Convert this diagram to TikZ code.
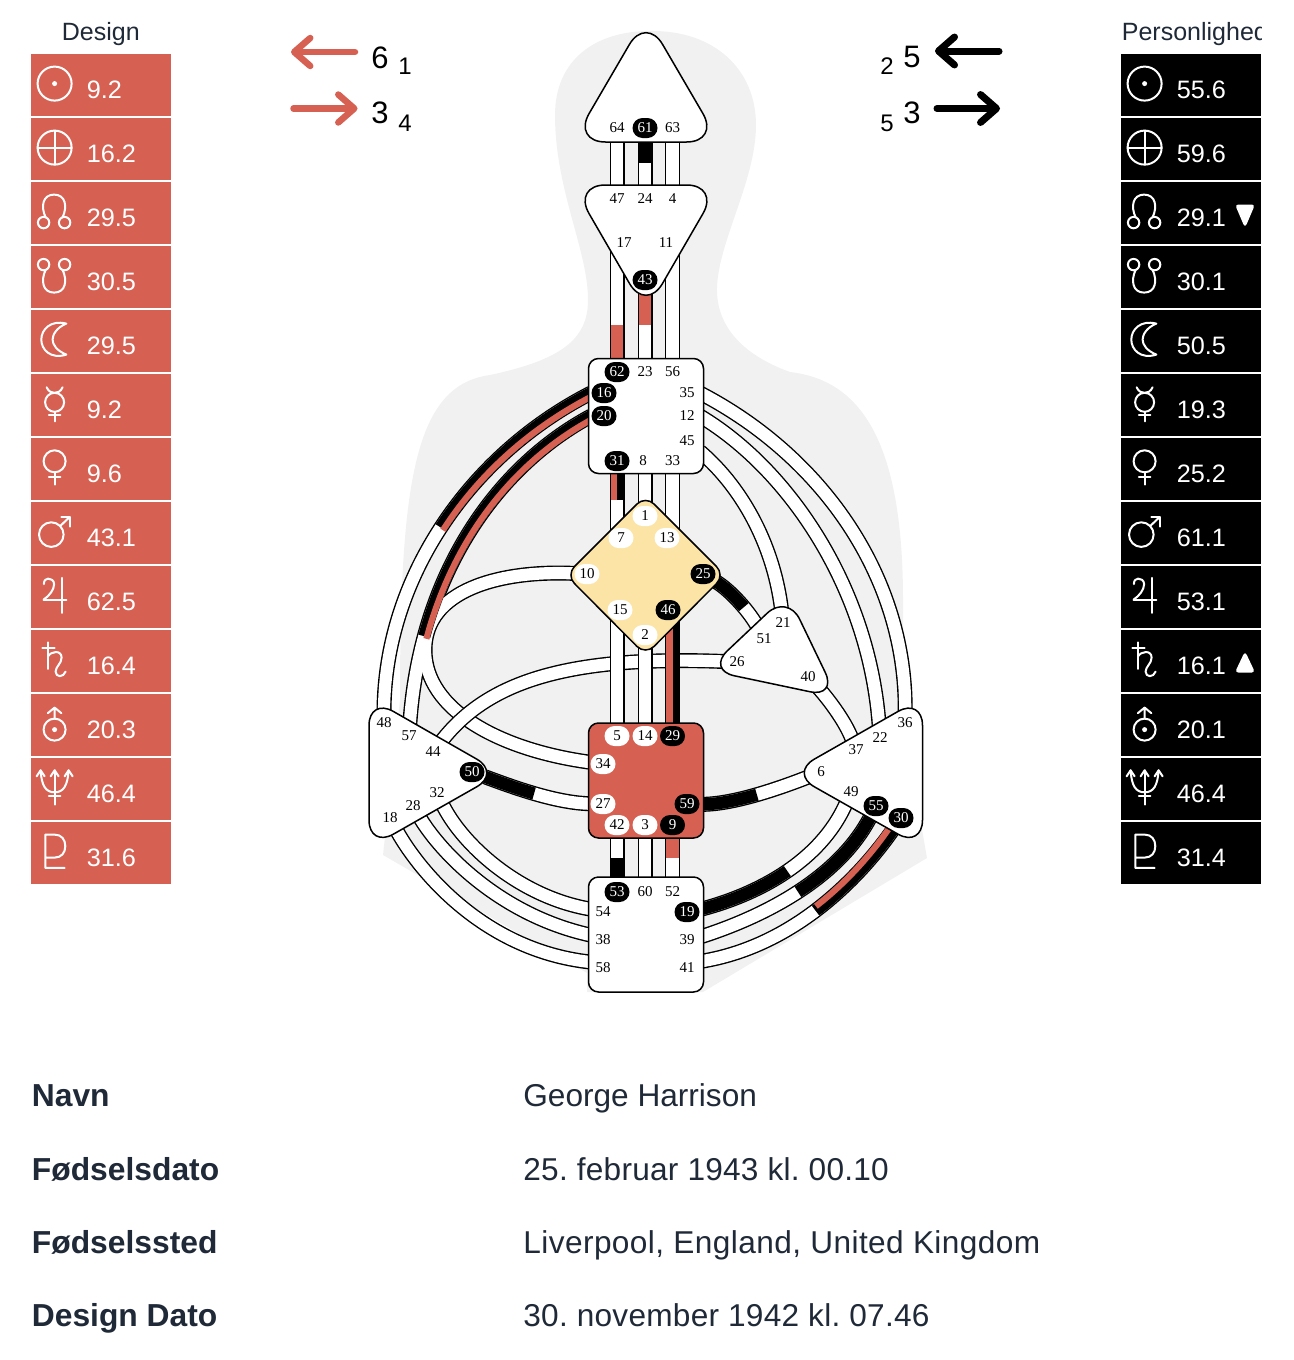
\documentclass[tikz,border=0pt]{standalone}
\usepackage{fontspec}
\setmainfont{Liberation Sans}
\newfontfamily\gatefont{Liberation Serif}
\usetikzlibrary{arrows.meta}
\pgfdeclarelayer{under}
\pgfsetlayers{under,main}
\definecolor{hdred}{HTML}{D66153}
\definecolor{hdbody}{HTML}{F1F1F1}
\definecolor{hdgold}{HTML}{FCE4A6}
\definecolor{hdtext}{HTML}{1F2937}

% curves that carry a coloured stretch, coloured end first
\newcommand{\pathSixteen}{(g16.west) .. controls (468,456) and (384,580) .. (g48)}
\newcommand{\pathTwenty}{(g20.west) .. controls (500,465) and (420,570) .. (g57)}
\newcommand{\pathFifty}{(g50) .. controls (510,786) and (555,803) .. (g27)}
\newcommand{\pathFiftyNine}{(g59) .. controls (730,805) and (775,790) .. (g6)}
\newcommand{\pathNineteen}{([yshift=1.25pt]g19.east) .. controls (745,898) and (818,868) .. (g49)}
\newcommand{\pathFiftyFive}{(g55) .. controls (838,880) and (760,918) .. ([yshift=1.5pt]g39.east)}
\newcommand{\pathThirty}{(g30) .. controls (872,860) and (805,945) .. ([yshift=3.25pt]g41.east)}
\newcommand{\pathTwentyFive}{(g25) .. controls (730,590) and (750,612) .. (g51)}
\newcommand{\chanset}[1]{%
  \foreach \p in {#1}{\draw[chanedge] \p;}
  \foreach \p in {#1}{\draw[chanfill] \p;}}

\tikzset{
  glyph/.style={draw=white, line width=1pt, line cap=round, line join=round},
  pics/sunglyph/.style={code={
    \draw[glyph] (24,30) circle (17);
    \fill[white] (24,30) circle (2.5);}},
  pics/earthglyph/.style={code={
    \draw[glyph] (24,30) circle (17);
    \draw[glyph] (7,30) -- (41,30) (24,13) -- (24,47);}},
  pics/northglyph/.style={code={
    \draw[glyph] (13,41) circle (5.7) (34,41) circle (5.7);
    \draw[glyph] (15,35.7) .. controls (10,25) and (12,13) .. (23.5,13)
                 .. controls (35,13) and (37,25) .. (32,35.7);}},
  pics/southglyph/.style={code={
    \draw[glyph] (13,19) circle (5.7) (34,19) circle (5.7);
    \draw[glyph] (15,24.3) .. controls (10,35) and (12,47) .. (23.5,47)
                 .. controls (35,47) and (37,35) .. (32,24.3);}},
  pics/moonglyph/.style={code={
    \draw[glyph] (35.7,14) .. controls (20,10) and (10.7,20) .. (10.7,30)
                 .. controls (10.7,40) and (20,50) .. (35.7,45)
                 .. controls (26,41) and (22,35) .. (22,30)
                 .. controls (22,25) and (26,18) .. (35.7,14) -- cycle;}},
  pics/mercuryglyph/.style={code={
    \draw[glyph] (24,28.7) circle (9.5);
    \draw[glyph] (16,13.7) .. controls (18,18) and (21,19.3) .. (24,19.3)
                 .. controls (27,19.3) and (30,18) .. (32,13.7);
    \draw[glyph] (24,38.2) -- (24,47.7) (18.3,41.5) -- (29.7,41.5);}},
  pics/venusglyph/.style={code={
    \draw[glyph] (24,23.7) circle (11);
    \draw[glyph] (24,34.7) -- (24,47) (18.3,39.5) -- (29.7,39.5);}},
  pics/marsglyph/.style={code={
    \draw[glyph] (20.7,33) circle (12.3);
    \draw[glyph] (29.5,24.5) -- (39,15.5);
    \draw[glyph] (30.7,15.5) -- (39,15.5) -- (39,25);}},
  pics/jupiterglyph/.style={code={
    \draw[glyph] (31.3,12.3) -- (31.3,47.3) (13,34) -- (35.7,34);
    \draw[glyph] (13,34) .. controls (19,30) and (23.5,24) .. (23.5,18.5)
                 .. controls (23.5,14.5) and (20,13) .. (17.5,13)
                 .. controls (15,13) and (13.3,15) .. (13.3,18.5);}},
  pics/saturnglyph/.style={code={
    \draw[glyph] (17.3,12.7) -- (17.3,39.3) (11.7,18.3) -- (24,18.3);
    \draw[glyph] (17.3,27) .. controls (20,21.5) and (31,20) .. (31,28)
                 .. controls (31,34) and (25,37) .. (25,42)
                 .. controls (25,48) and (33,48) .. (35,42);}},
  pics/uranusglyph/.style={code={
    \draw[glyph] (24,36) circle (11);
    \fill[white] (24,36) circle (2.5);
    \draw[glyph] (24,25) -- (24,14) (17.3,19.5) -- (24,14) -- (30.7,19.5);}},
  pics/neptuneglyph/.style={code={
    \draw[glyph] (24,12.7) -- (24,47) (18.3,38.7) -- (29.7,38.7);
    \draw[glyph] (10,12.7) .. controls (11,28) and (15,34.7) .. (24,34.7)
                 .. controls (33,34.7) and (37,28) .. (38,12.7);
    \draw[glyph] (6,18.7) -- (10,12.7) -- (14,18.7);
    \draw[glyph] (20,18.7) -- (24,12.7) -- (28,18.7);
    \draw[glyph] (34,18.7) -- (38,12.7) -- (42,18.7);}},
  pics/plutoglyph/.style={code={
    \draw[glyph] (34,46.3) -- (14.7,46.3) -- (14.7,13) -- (24,13)
                 .. controls (31,13) and (34.7,18) .. (34.7,24.5)
                 .. controls (34.7,31) and (31,36) .. (24,36) -- (14.7,36);}}
}

\begin{document}
\frenchspacing
\begin{tikzpicture}[
    x=0.5pt, y=-0.5pt,
    gate/.style={font=\gatefont\fontsize{7.5}{8}\selectfont, inner sep=0pt,
                 minimum width=12.5pt, minimum height=10pt, rounded corners=5pt},
    gateon/.style={gate, fill=black, text=white},
    gatewh/.style={gate, fill=white},
    chanedge/.style={line width=7.5pt, black},
    chanfill/.style={line width=6.1pt, white},
    part/.style={line width=6.1pt, dash pattern=on #1 off 4000pt},
    halfpart/.style={line width=3.05pt, dash pattern=on #1 off 4000pt},
    cen/.style={draw=black, line width=0.75pt, fill=white},
    sqcen/.style={cen, minimum size=57.5pt, inner sep=0pt, rounded corners=5pt},
    rowd/.style={fill=hdred, minimum width=70pt, minimum height=31pt, inner sep=0pt},
    rowp/.style={fill=black, minimum width=70pt, minimum height=31pt, inner sep=0pt},
    val/.style={text=white, anchor=base west, inner sep=0pt, font=\fontsize{12.6}{14}\selectfont},
    colhead/.style={text=hdtext, anchor=base west, inner sep=0pt, font=\fontsize{12.5}{15}\selectfont},
    keytxt/.style={text=hdtext, anchor=base west, inner sep=0pt, font=\fontsize{15.9}{19}\selectfont\bfseries},
    valtxt/.style={text=hdtext, anchor=base west, inner sep=0pt, font=\fontsize{15.8}{19}\selectfont},
    bignum/.style={inner sep=0pt, font=\fontsize{15.5}{18}\selectfont},
    smallnum/.style={inner sep=0pt, font=\fontsize{12}{14}\selectfont},
    barb/.style={line width=3.25pt, line cap=round, -{Straight Barb[round, length=8pt, width=14pt]}}
]
  \useasboundingbox (0,0) rectangle (1294,1360);

  % ================= column heads =================
  \node[colhead] (dhead) at (61.5,40) {Design};
  \begin{scope}
    \clip (1121,0) rectangle (1261,60);
    \node[colhead] (phead) at (1121.5,40) {Personlighed};
  \end{scope}

  % ================= design column =================
  \node[rowd] (dsun) at (101,85)  {}; \node[val] (vdsun) at (86.5,98.5)  {9.2};  \pic at (dsun.north west) {sunglyph};
  \node[rowd] (dear) at (101,149) {}; \node[val] (vdear) at (86.5,162.5) {16.2}; \pic at (dear.north west) {earthglyph};
  \node[rowd] (dnor) at (101,213) {}; \node[val] (vdnor) at (86.5,226.5) {29.5}; \pic at (dnor.north west) {northglyph};
  \node[rowd] (dsou) at (101,277) {}; \node[val] (vdsou) at (86.5,290.5) {30.5}; \pic at (dsou.north west) {southglyph};
  \node[rowd] (dmoo) at (101,341) {}; \node[val] (vdmoo) at (86.5,354.5) {29.5}; \pic at (dmoo.north west) {moonglyph};
  \node[rowd] (dmer) at (101,405) {}; \node[val] (vdmer) at (86.5,418.5) {9.2};  \pic at (dmer.north west) {mercuryglyph};
  \node[rowd] (dven) at (101,469) {}; \node[val] (vdven) at (86.5,482.5) {9.6};  \pic at (dven.north west) {venusglyph};
  \node[rowd] (dmar) at (101,533) {}; \node[val] (vdmar) at (86.5,546.5) {43.1}; \pic at (dmar.north west) {marsglyph};
  \node[rowd] (djup) at (101,597) {}; \node[val] (vdjup) at (86.5,610.5) {62.5}; \pic at (djup.north west) {jupiterglyph};
  \node[rowd] (dsat) at (101,661) {}; \node[val] (vdsat) at (86.5,674.5) {16.4}; \pic at (dsat.north west) {saturnglyph};
  \node[rowd] (dura) at (101,725) {}; \node[val] (vdura) at (86.5,738.5) {20.3}; \pic at (dura.north west) {uranusglyph};
  \node[rowd] (dnep) at (101,789) {}; \node[val] (vdnep) at (86.5,802.5) {46.4}; \pic at (dnep.north west) {neptuneglyph};
  \node[rowd] (dplu) at (101,853) {}; \node[val] (vdplu) at (86.5,866.5) {31.6}; \pic at (dplu.north west) {plutoglyph};

  % ================= personality column =================
  \node[rowp] (psun) at (1191,85)  {}; \node[val] (vpsun) at (1176.5,98.5)  {55.6}; \pic at (psun.north west) {sunglyph};
  \node[rowp] (pear) at (1191,149) {}; \node[val] (vpear) at (1176.5,162.5) {59.6}; \pic at (pear.north west) {earthglyph};
  \node[rowp] (pnor) at (1191,213) {}; \node[val] (vpnor) at (1176.5,226.5) {29.1}; \pic at (pnor.north west) {northglyph};
  \node[rowp] (psou) at (1191,277) {}; \node[val] (vpsou) at (1176.5,290.5) {30.1}; \pic at (psou.north west) {southglyph};
  \node[rowp] (pmoo) at (1191,341) {}; \node[val] (vpmoo) at (1176.5,354.5) {50.5}; \pic at (pmoo.north west) {moonglyph};
  \node[rowp] (pmer) at (1191,405) {}; \node[val] (vpmer) at (1176.5,418.5) {19.3}; \pic at (pmer.north west) {mercuryglyph};
  \node[rowp] (pven) at (1191,469) {}; \node[val] (vpven) at (1176.5,482.5) {25.2}; \pic at (pven.north west) {venusglyph};
  \node[rowp] (pmar) at (1191,533) {}; \node[val] (vpmar) at (1176.5,546.5) {61.1}; \pic at (pmar.north west) {marsglyph};
  \node[rowp] (pjup) at (1191,597) {}; \node[val] (vpjup) at (1176.5,610.5) {53.1}; \pic at (pjup.north west) {jupiterglyph};
  \node[rowp] (psat) at (1191,661) {}; \node[val] (vpsat) at (1176.5,674.5) {16.1}; \pic at (psat.north west) {saturnglyph};
  \node[rowp] (pura) at (1191,725) {}; \node[val] (vpura) at (1176.5,738.5) {20.1}; \pic at (pura.north west) {uranusglyph};
  \node[rowp] (pnep) at (1191,789) {}; \node[val] (vpnep) at (1176.5,802.5) {46.4}; \pic at (pnep.north west) {neptuneglyph};
  \node[rowp] (pplu) at (1191,853) {}; \node[val] (vpplu) at (1176.5,866.5) {31.4}; \pic at (pplu.north west) {plutoglyph};
  \fill[white, draw=white, line width=1pt, rounded corners=1pt] (1236.5,205.5) -- (1253.5,205.5) -- (1245,225.5) -- cycle;
  \fill[white, draw=white, line width=1pt, rounded corners=1pt] (1236.5,671.5) -- (1253.5,671.5) -- (1245,653.5) -- cycle;

  % ================= arrows and their numbers =================
  \coordinate (ra1) at (355,52);   \coordinate (rb1) at (291,52);
  \coordinate (ra2) at (293.5,108.5); \coordinate (rb2) at (357.5,108.5);
  \coordinate (ka1) at (999,51);   \coordinate (kb1) at (935,51);
  \coordinate (ka2) at (937,108.5); \coordinate (kb2) at (1000,108.5);
  \draw[barb, hdred] (ra1) -- (rb1);
  \draw[barb, hdred] (ra2) -- (rb2);
  \draw[barb, line width=3.5pt] (ka1) -- (kb1);
  \draw[barb, line width=3.5pt] (ka2) -- (kb2);
  \node[bignum]   (n61) at (380,58)  {6};
  \node[smallnum] (n11) at (405,66)  {1};
  \node[bignum]   (n32) at (380,113) {3};
  \node[smallnum] (n42) at (405,123) {4};
  \node[bignum]   (n53) at (912,57)  {5};
  \node[smallnum] (n23) at (887,66)  {2};
  \node[bignum]   (n34) at (912,113) {3};
  \node[smallnum] (n54) at (887,123) {5};

  % ================= gates =================
  % head
  \node[gate]   (g64) at (617,128)   {64};
  \node[gateon] (g61) at (645,128)   {61};
  \node[gate]   (g63) at (672.5,128) {63};
  % ajna
  \node[gate]   (g47) at (617,199)   {47};
  \node[gate]   (g24) at (645,199)   {24};
  \node[gate]   (g4)  at (672.5,199) {4};
  \node[gate]   (g17) at (624,243)   {17};
  \node[gate]   (g11) at (666,243)   {11};
  \node[gateon] (g43) at (645,280)   {43};
  % throat
  \node[gateon] (g62) at (617,372)   {62};
  \node[gate]   (g23) at (645,372)   {23};
  \node[gate]   (g56) at (672.5,372) {56};
  \node[gateon] (g16) at (604,393)   {16};
  \node[gate]   (g35) at (687,393)   {35};
  \node[gateon] (g20) at (604,416)   {20};
  \node[gate]   (g12) at (687,416)   {12};
  \node[gate]   (g45) at (687,441)   {45};
  \node[gateon] (g31) at (617,461)   {31};
  \node[gate]   (g8)  at (643,461)   {8};
  \node[gate]   (g33) at (672.5,461) {33};
  % g center
  \node[gatewh] (g1)  at (645,516)   {1};
  \node[gatewh] (g7)  at (621,538)   {7};
  \node[gatewh] (g13) at (667,538)   {13};
  \node[gatewh] (g10) at (587,574)   {10};
  \node[gateon] (g25) at (703,574)   {25};
  \node[gatewh] (g15) at (620,610)   {15};
  \node[gateon] (g46) at (668,610)   {46};
  \node[gatewh] (g2)  at (645,635)   {2};
  % ego
  \node[gate]   (g21) at (783,623)   {21};
  \node[gate]   (g51) at (764,639)   {51};
  \node[gate]   (g26) at (737,662)   {26};
  \node[gate]   (g40) at (808,677)   {40};
  % sacral
  \node[gatewh] (g5)  at (617,736)   {5};
  \node[gatewh] (g14) at (645,736)   {14};
  \node[gateon] (g29) at (672.5,736) {29};
  \node[gatewh] (g34) at (603,764)   {34};
  \node[gatewh] (g27) at (603,804)   {27};
  \node[gateon] (g59) at (687,804)   {59};
  \node[gatewh] (g42) at (617,825)   {42};
  \node[gatewh] (g3)  at (645,825)   {3};
  \node[gateon] (g9)  at (672.5,825) {9};
  % root
  \node[gateon] (g53) at (617,892)   {53};
  \node[gate]   (g60) at (645,892)   {60};
  \node[gate]   (g52) at (672.5,892) {52};
  \node[gate]   (g54) at (603,912)   {54};
  \node[gateon] (g19) at (687,912)   {19};
  \node[gate]   (g38) at (603,940)   {38};
  \node[gate]   (g39) at (687,940)   {39};
  \node[gate]   (g58) at (603,968)   {58};
  \node[gate]   (g41) at (687,968)   {41};
  % spleen
  \node[gate]   (g48) at (384,723)   {48};
  \node[gate]   (g57) at (409,736)   {57};
  \node[gate]   (g44) at (433,752)   {44};
  \node[gateon] (g50) at (472,772)   {50};
  \node[gate]   (g32) at (437,793)   {32};
  \node[gate]   (g28) at (413,806)   {28};
  \node[gate]   (g18) at (390,818)   {18};
  % solar plexus
  \node[gate]   (g36) at (905,723)   {36};
  \node[gate]   (g22) at (880,738)   {22};
  \node[gate]   (g37) at (856,750)   {37};
  \node[gate]   (g6)  at (821,772)   {6};
  \node[gate]   (g49) at (851,792)   {49};
  \node[gateon] (g55) at (876,806)   {55};
  \node[gateon] (g30) at (901,818)   {30};

  % ends of the coloured stretches on the straight channels
  \coordinate (m24) at (645,163);
  \coordinate (m17) at (617,325);
  \coordinate (m23) at (645,325);
  \coordinate (m7)  at (617,500);
  \coordinate (m46) at (672.5,612);
  \coordinate (m42) at (617,858);
  \coordinate (m52) at (672.5,858);

  \begin{pgfonlayer}{under}
  % ================= body =================
  \fill[hdbody] (650,31) .. controls (715,30) and (756,70) .. (756,125)
      .. controls (756,180) and (719,240) .. (717,287)
      .. controls (716,320) and (735,352) .. (790,372)
      .. controls (860,380) and (903,440) .. (903,600)
      -- (903,720) -- (927,858) -- (703,992) -- (587,992) -- (587,973)
      -- (383,855) -- (400,700)
      .. controls (400,480) and (415,385) .. (490,375)
      .. controls (560,360) and (588,340) .. (588,300)
      .. controls (588,250) and (555,190) .. (555,115)
      .. controls (555,60) and (595,31) .. (650,31) -- cycle;

  % ================= curved channels =================
  \chanset{\pathSixteen, \pathTwenty, \pathFifty, \pathFiftyNine,
           \pathNineteen, \pathFiftyFive, \pathThirty, \pathTwentyFive,
           {(g10) .. controls (500,570) and (425,590) .. (425,650)
                  .. controls (425,710) and (500,750) .. (g34)},
           {(g32) .. controls (462,845) and (520,897) .. ([yshift=1.5pt]g54.west)},
           {(g28) .. controls (440,852) and (500,915) .. ([yshift=2.5pt]g38.west)},
           {(g18) .. controls (415,865) and (480,950) .. ([yshift=3pt]g58.west)},
           {(g35.east) .. controls (825,458) and (907,580) .. (g36)},
           {(g12.east) .. controls (790,470) and (870,590) .. (g22)},
           {(g45.south east) .. controls (745,490) and (775,550) .. (g21)},
           {(g40) .. controls (825,695) and (845,720) .. (g37)}}

  % coloured stretches
  \draw[part=102pt] \pathSixteen;
  \draw[halfpart=102pt, hdred] (593.1,395.7) .. controls (469.6,458.7) and (387,580.5) .. (388,716);
  \draw[part=142pt] \pathTwenty;
  \draw[halfpart=142pt, hdred] (593.1,418.7) .. controls (501.6,467.7) and (423,571) .. (412,726);
  \draw[part=26pt] \pathFifty;
  \draw[part=29pt] \pathFiftyNine;
  \draw[part=48pt] \pathNineteen;
  \draw[part=53pt] \pathFiftyFive;
  \draw[part=57pt] \pathThirty;
  \draw[halfpart=57pt, hdred] (892.8,822.8) .. controls (869.8,857.8) and (803.8,942.2) .. (698.3,958.7);
  \draw[part=19pt] \pathTwentyFive;

  % ================= crossing channel =================
  \chanset{{(g26) .. controls (560,655) and (485,685) .. (g44)}}

  % ================= straight channels =================
  \chanset{{(g64) -- (g47)}, {(g61) -- (g24)}, {(g63) -- (g4)},
           {(g62) -- (g62 |- g17)}, {(g43) -- (g23)}, {(g56) -- (g56 |- g11)},
           {(g31) -- (g31 |- g7)}, {(g1) -- (g1 |- g8)}, {(g33) -- (g33 |- g13)},
           {(g5) -- (g5 |- g15)}, {(g2) -- (g14)}, {(g29) -- (g29 |- g46)},
           {(g42) -- (g53)}, {(g3) -- (g60)}, {(g9) -- (g52)}}
  \draw[line width=6.1pt] (g61) -- (m24);
  \draw[line width=6.1pt, hdred] (g62) -- (m17);
  \draw[line width=6.1pt, hdred] (g43) -- (m23);
  \draw[line width=6.1pt] (g31.center) -- (m7);
  \draw[line width=3.05pt, hdred] ([xshift=-1.52pt]g31.center) -- ([xshift=-1.52pt]m7);
  \draw[line width=6.1pt] (g29.center) -- (m46);
  \draw[line width=3.05pt, hdred] ([xshift=-1.52pt]g29.center) -- ([xshift=-1.52pt]m46);
  \draw[line width=6.1pt] (g53) -- (m42);
  \draw[line width=6.1pt, hdred] (g9) -- (m52);

  % ================= centers =================
  \draw[cen, rounded corners=16.5pt] (646,16) -- (719.5,142) -- (572.5,142) -- cycle;
  \draw[cen, rounded corners=16.5pt] (572.5,185) -- (719.5,185) -- (646,312) -- cycle;
  \node[sqcen] (throat) at (646,416) {};
  \draw[cen, fill=hdgold, rounded corners=6pt] (645.5,495.5) -- (725,575) -- (645.5,655) -- (566,575) -- cycle;
  \draw[cen, rounded corners=14pt] (707,670) -- (787.5,594) -- (837.3,697.5) -- cycle;
  \node[sqcen, fill=hdred] (sacral) at (646,780.5) {};
  \node[sqcen] (rootbox) at (646,934.5) {};
  \draw[cen, rounded corners=14pt] (369,697.5) -- (501,773) -- (369,848) -- cycle;
  \draw[cen, rounded corners=14pt] (922.5,697.5) -- (790,773) -- (922.5,848) -- cycle;
  \end{pgfonlayer}

  % ================= data rows =================
  \node[keytxt] (knavn) at (31.5,1106)  {Navn};
  \node[valtxt] (vnavn) at (523,1106) {George Harrison};
  \node[keytxt] (kdato) at (31.5,1180)  {Fødselsdato};
  \node[valtxt] (vdato) at (523,1180) {\addfontfeature{LetterSpace=0.8}25. februar 1943 kl. 00.10};
  \node[keytxt] (ksted) at (31.5,1253)  {Fødselssted};
  \node[valtxt] (vsted) at (523,1253) {\addfontfeature{LetterSpace=1.35}Liverpool, England, United Kingdom};
  \node[keytxt] (kdesi) at (31.5,1326)  {Design Dato};
  \node[valtxt] (vdesi) at (523,1326) {\addfontfeature{LetterSpace=0.8}30. november 1942 kl. 07.46};

\end{tikzpicture}
\end{document}
